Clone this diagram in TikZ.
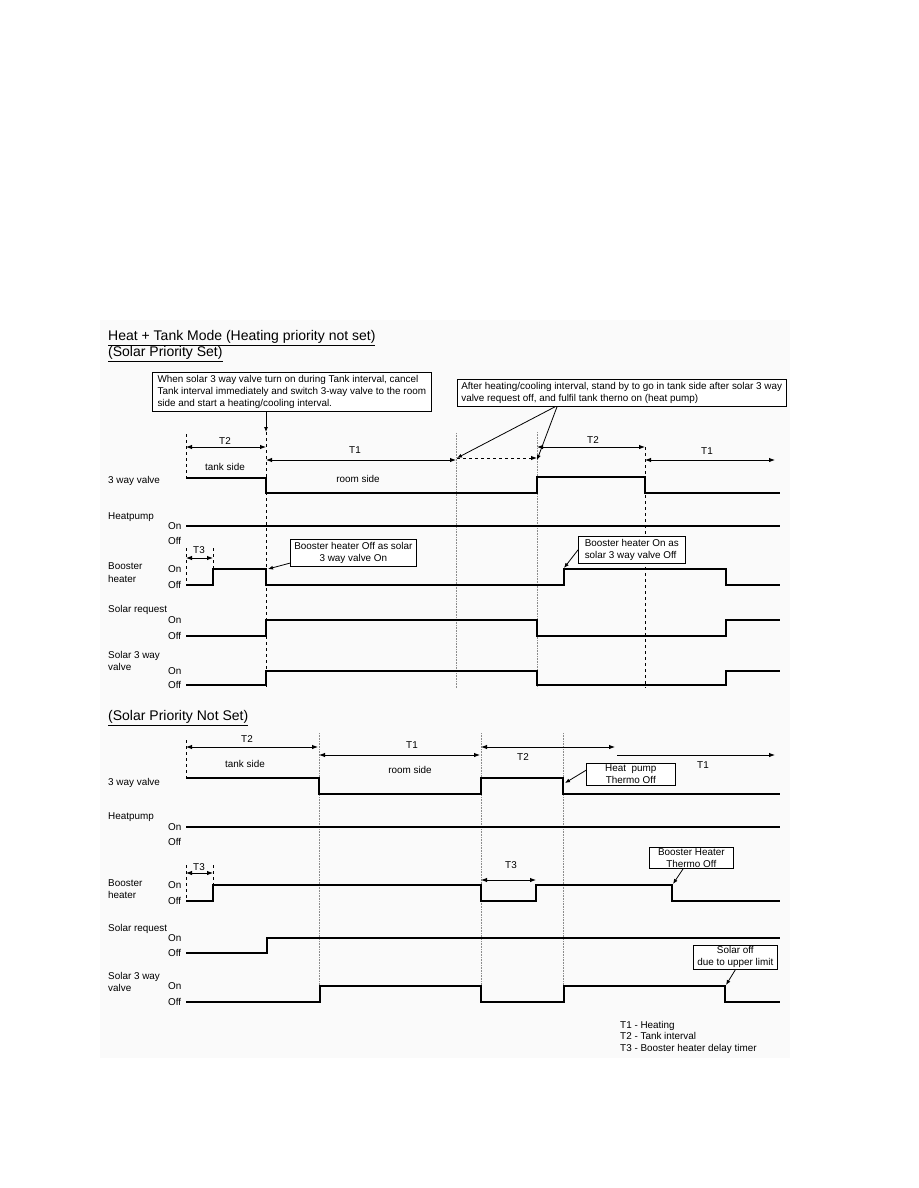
\documentclass[tikz,border=0pt]{standalone}
\usepackage{fontspec}
\setmainfont{Liberation Sans}
\usetikzlibrary{arrows.meta,positioning,calc}
\definecolor{GuideGray}{HTML}{8C8C8C}
\definecolor{PanelTint}{HTML}{FAFAFA}

\begin{document}
\begin{tikzpicture}[x=1pt,y=-1pt,font=\fontsize{9.9}{12}\selectfont]
    \tikzset{sig/.style={line width=1.6pt,line join=miter},
      span/.style={line width=0.9pt,{Latex[length=6pt,width=4.5pt]}-{Latex[length=6pt,width=4.5pt]}},
      spanto/.style={line width=0.9pt,-{Latex[length=6pt,width=4.5pt]}},
      note/.style={line width=0.8pt,-{Latex[length=5pt,width=4pt]}},
      notebox/.style={draw,line width=0.6pt,fill=white,inner xsep=4pt,inner ysep=3pt,anchor=north west,
        font=\fontsize{9.9}{12}\selectfont},
      cue/.style={dashed,line width=0.6pt},
      guide/.style={densely dotted,line width=0.6pt,draw=GuideGray},
      lbl/.style={anchor=west,inner sep=0pt,align=left},
      lvl/.style={anchor=west,inner sep=0pt},
      heading/.style={anchor=west,inner sep=0pt,font=\fontsize{14}{16}\selectfont},
      tag/.style={inner sep=0pt}}
    \useasboundingbox (0,0) rectangle (918,1188);
    \fill[PanelTint] (100,320) rectangle (790,1058);
    % titles
    \node[heading] (title) at (108,338) {\underline{Heat + Tank Mode (Heating priority not set)}};
    \node[heading] (setA) at (108,354) {\underline{(Solar Priority Set)}};
    \node[heading] (setB) at (108,718) {\underline{(Solar Priority Not Set)}};

    % ---- solar priority set ----
    \node[lbl] (vA) at (108,481) {3 way valve};
    \node[lbl] (hA) at (108,517) {Heatpump};
    \node[lvl] (hAon) at (168,526) {On};
    \node[lvl] (hAoff) at (168,541) {Off};
    \node[lbl,font=\fontsize{9.9}{13}\selectfont] (bA) at (108,573) {Booster\\heater};
    \node[lvl] (bAon) at (168,569) {On};
    \node[lvl] (bAoff) at (168,585) {Off};
    \node[lbl] (rA) at (108,610) {Solar request};
    \node[lvl] (rAon) at (168,620) {On};
    \node[lvl] (rAoff) at (168,636) {Off};
    \node[lbl] (sA) at (108,661) {Solar 3 way\\valve};
    \node[lvl] (sAon) at (168,671) {On};
    \node[lvl] (sAoff) at (168,685) {Off};

    \draw[cue] (186,434) -- (186,478);
    \draw[cue] (186,548) -- (186,585);
    \draw[cue] (213,548) -- (213,569);
    \draw[cue] (266,432) -- (266,688);
    \draw[guide] (456,433) -- (456,688);
    \draw[guide] (537,432) -- (537,688);
    \draw[cue] (645,447) -- (645,688);

    \draw[sig] (186,478) -- (266,478) -- (266,493) -- (537,493) -- (537,477) -- (645,477) -- (645,493) -- (780,493);
    \draw[sig] (186,526) -- (780,526);
    \draw[sig] (186,585) -- (213,585) -- (213,569) -- (266,569) -- (266,585) -- (564,585) -- (564,569) -- (726,569) -- (726,585) -- (780,585);
    \draw[sig] (186,636) -- (266,636) -- (266,620) -- (537,620) -- (537,636) -- (726,636) -- (726,620) -- (780,620);
    \draw[sig] (186,685) -- (266,685) -- (266,671) -- (537,671) -- (537,685) -- (726,685) -- (726,671) -- (780,671);

    \draw[span] (186,447) -- (266,447);
    \draw[span] (266,460) -- (456,460);
    \draw[spanto,dashed] (457,458) -- (537,458);
    \draw[span] (537,447) -- (645,447);
    \draw[span] (645,460) -- (775,460);
    \draw[span] (186,558) -- (213,558);
    \node[tag] (t2a) at (225,441) {T2};
    \node[tag] (tankA) at (225,467) {tank side};
    \node[tag] (t1a) at (355,450) {T1};
    \node[tag] (roomA) at (358,479) {room side};
    \node[tag] (t2b) at (593,440) {T2};
    \node[tag] (t1b) at (707,451) {T1};
    \node[tag] (t3a) at (199,550) {T3};

    \node[notebox,align=left,minimum width=279pt] (cancel) at (152,372) {When solar 3 way valve turn on during Tank interval, cancel\\Tank interval immediately and switch 3-way valve to the room\\side and start a heating/cooling interval.};
    \node[notebox,align=left,minimum width=326pt] (standby) at (457,379) {After heating/cooling interval, stand by to go in tank side after solar 3 way\\valve request off, and fulfil tank therno on (heat pump)};
    \node[notebox,align=center,minimum width=123pt] (bOff) at (290,539) {Booster heater Off as solar\\3 way valve On};
    \node[notebox,align=left,minimum width=107pt] (bOn) at (578,536) {Booster heater On as\\solar 3 way valve Off};
    \coordinate (cut) at (266,432);
    \coordinate (wait1) at (457,458);
    \coordinate (wait2) at (537,460);
    \coordinate (drop) at (268,569);
    \coordinate (rise) at (564,568);
    \draw[note] (cancel.south -| cut) -- (cut);
    \draw[note] ($(standby.south west)+(98,0)$) -- (wait1);
    \draw[note] ($(standby.south west)+(100,0)$) -- (wait2);
    \draw[note] ($(bOff.south west)+(1,-4)$) -- (drop);
    \draw[note] (bOn.west) -- (rise);

    % ---- solar priority not set ----
    \node[lbl] (vB) at (108,783) {3 way valve};
    \node[lbl] (hB) at (108,817) {Heatpump};
    \node[lvl] (hBon) at (168,827) {On};
    \node[lvl] (hBoff) at (168,842) {Off};
    \node[lbl,font=\fontsize{9.9}{11.5}\selectfont] (bB) at (108,889) {Booster\\heater};
    \node[lvl] (bBon) at (168,885) {On};
    \node[lvl] (bBoff) at (168,901) {Off};
    \node[lbl] (rB) at (108,929) {Solar request};
    \node[lvl] (rBon) at (168,938) {On};
    \node[lvl] (rBoff) at (168,953) {Off};
    \node[lbl,font=\fontsize{9.9}{11.5}\selectfont] (sB) at (108,982) {Solar 3 way\\valve};
    \node[lvl] (sBon) at (168,986) {On};
    \node[lvl] (sBoff) at (168,1002) {Off};

    \draw[cue] (186,740) -- (186,778);
    \draw[cue] (186,865) -- (186,901);
    \draw[cue] (213,865) -- (213,885);
    \draw[guide] (319,733) -- (319,1002);
    \draw[guide] (481,733) -- (481,1002);
    \draw[guide] (563,733) -- (563,1002);

    \draw[sig] (186,778) -- (319,778) -- (319,794) -- (481,794) -- (481,778) -- (563,778) -- (563,794) -- (780,794);
    \draw[sig] (186,827) -- (780,827);
    \draw[sig] (186,901) -- (213,901) -- (213,885) -- (481,885) -- (481,901) -- (536,901) -- (536,885) -- (672,885) -- (672,901) -- (780,901);
    \draw[sig] (186,953) -- (267,953) -- (267,938) -- (780,938);
    \draw[sig] (186,1002) -- (320,1002) -- (320,986) -- (481,986) -- (481,1002) -- (564,1002) -- (564,986) -- (725,986) -- (725,1002) -- (780,1002);

    \draw[span] (186,747) -- (318,747);
    \draw[span] (319,755) -- (480,755);
    \draw[span] (481,747) -- (615,747);
    \draw[spanto] (617,755) -- (775,755);
    \draw[span] (186,873) -- (213,873);
    \draw[span] (481,880) -- (536,880);
    \node[tag] (t2c) at (247,739) {T2};
    \node[tag] (tankB) at (245,764) {tank side};
    \node[tag] (t1c) at (412,745) {T1};
    \node[tag] (roomB) at (410,770) {room side};
    \node[tag] (t2d) at (523,757) {T2};
    \node[tag] (t1d) at (703,765) {T1};
    \node[tag] (t3b) at (199,867) {T3};
    \node[tag] (t3c) at (511,865) {T3};

    \node[notebox,align=center,minimum width=89pt,inner ysep=1.5pt] (hpOff) at (586,763) {Heat\ \ pump\\Thermo Off};
    \node[notebox,align=center,minimum width=84pt,inner xsep=3pt,inner ysep=1pt] (bhOff) at (649,847) {Booster Heater\\Thermo Off};
    \node[notebox,align=center,minimum width=84pt,inner xsep=3pt,inner ysep=1.5pt] (limit) at (693,945) {Solar off\\due to upper limit};
    \coordinate (hpDrop) at (565,783);
    \coordinate (bhDrop) at (673,884);
    \coordinate (sDrop) at (726,985);
    \draw[note] ($(hpOff.west)+(0,-4)$) -- (hpDrop);
    \draw[note] ($(bhOff.south)+(-8,0)$) -- (bhDrop);
    \draw[note] (limit.south) -- (sDrop);

    \node[lbl,font=\fontsize{9.9}{11.5}\selectfont] (legend) at (620,1037) {T1 - Heating\\T2 - Tank interval\\T3 - Booster heater delay timer};
  \end{tikzpicture}
\end{document}
